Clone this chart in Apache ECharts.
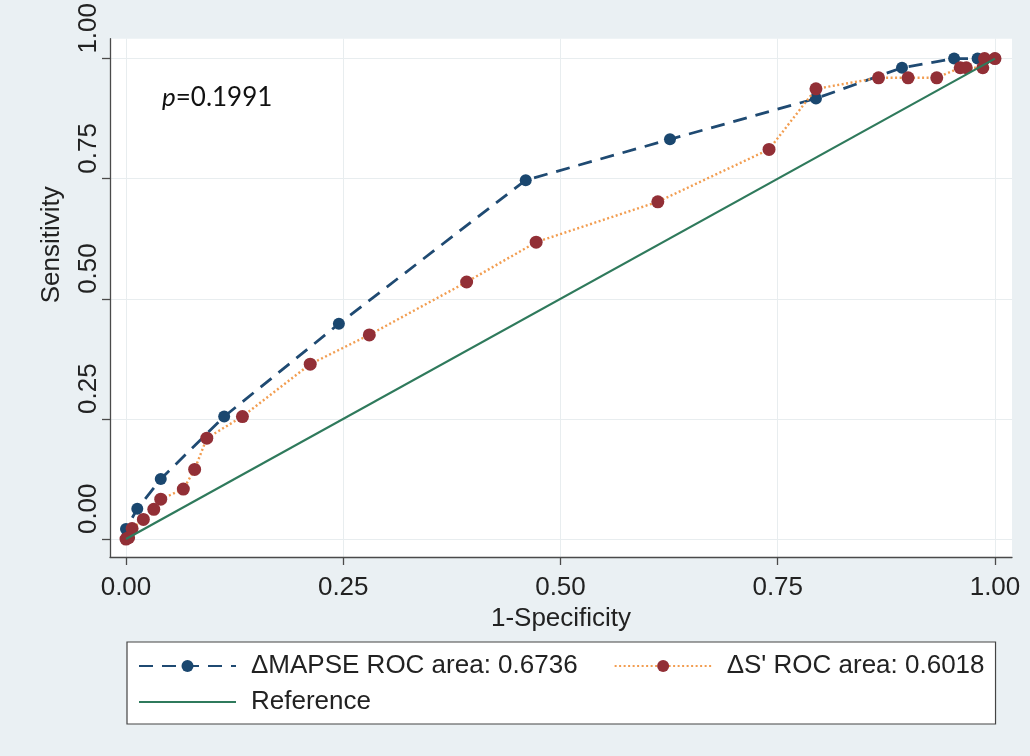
<!DOCTYPE html>
<html>
<head>
<meta charset="utf-8">
<title>ROC curves</title>
<script src="https://cdn.jsdelivr.net/npm/echarts@6/dist/echarts.min.js"></script>
<style>
  html, body { margin: 0; padding: 0; background: #eaf0f3; }
  #chart { width: 1030px; height: 756px; }
</style>
</head>
<body>
<div id="chart"></div>
<script>
// Tick positions shared by both axes
const tickValues = [0, 0.25, 0.5, 0.75, 1];

// ΔMAPSE ROC curve (1-specificity, sensitivity)
const mapseFpr  = [0, 0, 0.013, 0.040, 0.113, 0.245, 0.460, 0.626, 0.794, 0.893, 0.953, 0.980, 1];
const mapseSens = [0, 0.021, 0.063, 0.125, 0.255, 0.448, 0.747, 0.832, 0.917, 0.981, 1, 1, 1];

// ΔS' ROC curve (1-specificity, sensitivity)
const sFpr  = [0, 0.003, 0.007, 0.020, 0.032, 0.040, 0.066, 0.079, 0.093, 0.134, 0.212, 0.280, 0.392, 0.472, 0.612, 0.740, 0.794, 0.866, 0.900, 0.933, 0.960, 0.967, 0.986, 0.988, 1];
const sSens = [0, 0.003, 0.022, 0.041, 0.062, 0.083, 0.104, 0.145, 0.210, 0.255, 0.364, 0.425, 0.535, 0.618, 0.702, 0.811, 0.937, 0.960, 0.960, 0.960, 0.981, 0.981, 0.981, 1, 1];

// Chance diagonal
const refX = [0, 1];
const refY = [0, 1];

const mapseName = 'ΔMAPSE ROC area: 0.6736';
const sName = "ΔS' ROC area: 0.6018";
const refName = 'Reference';
const pText = '{i|p}=0.1991';

const zip = (xs, ys) => xs.map((x, i) => [x, ys[i]]);
const fmt = v => v.toFixed(2);

const FONT = "'Liberation Sans', Arial, sans-serif";
const axisColor = '#4a4a4a';
const gridColor = '#e8edef';

const chart = echarts.init(document.getElementById('chart'), null, { renderer: 'canvas' });

chart.setOption({
  backgroundColor: '#eaf0f3',
  animation: false,
  textStyle: { fontFamily: FONT },
  title: {
    text: pText,
    left: 157,
    top: 80,
    textStyle: {
      fontFamily: "Lato, 'Liberation Sans', sans-serif",
      fontSize: 26,
      fontWeight: 'normal',
      color: '#111',
      rich: {
        i: { fontFamily: "Lato, 'Liberation Sans', sans-serif", fontSize: 26, fontStyle: 'italic', color: '#111' }
      }
    }
  },
  grid: {
    left: 110, right: 18, top: 37, bottom: 199,
    show: true, backgroundColor: '#ffffff', borderWidth: 0,
    containLabel: false
  },
  xAxis: {
    type: 'value',
    min: -0.0184, max: 1.0196,
    name: '1-Specificity',
    nameLocation: 'middle',
    nameGap: 39,
    nameTextStyle: { fontFamily: FONT, fontSize: 26, color: '#222' },
    axisLine: { show: true, onZero: false, lineStyle: { color: axisColor, width: 1.3 } },
    axisTick: { show: true, customValues: tickValues, length: 8, lineStyle: { color: axisColor, width: 1.3 } },
    axisLabel: { customValues: tickValues, formatter: fmt, fontFamily: FONT, fontSize: 26, color: '#222', margin: 18 },
    splitLine: { show: true, lineStyle: { color: gridColor, width: 1 } }
  },
  yAxis: {
    type: 'value',
    min: -0.0373, max: 1.0415,
    name: 'Sensitivity',
    nameLocation: 'middle',
    nameRotate: 90,
    nameGap: 45,
    nameTextStyle: { fontFamily: FONT, fontSize: 26, color: '#222', padding: [0, 0, 0, 106] },
    axisLine: { show: true, onZero: false, lineStyle: { color: axisColor, width: 1.3 } },
    axisTick: { show: true, customValues: tickValues, length: 8, lineStyle: { color: axisColor, width: 1.3 } },
    axisLabel: {
      customValues: tickValues, formatter: fmt, fontFamily: FONT, fontSize: 26, color: '#222',
      rotate: 90, align: 'left', verticalAlign: 'middle', margin: 21, padding: [0, 0, 0, 5]
    },
    splitLine: { show: true, lineStyle: { color: gridColor, width: 1 } }
  },
  legend: [
    {
      data: [mapseName, sName],
      left: 127, top: 642,
      orient: 'horizontal',
      padding: [11, 11, 45, 11],
      itemGap: 36,
      itemWidth: 97, itemHeight: 15,
      backgroundColor: '#ffffff',
      borderColor: '#444', borderWidth: 1.2, borderRadius: 0,
      textStyle: { fontFamily: FONT, fontSize: 26, color: '#222', padding: [0, 0, 0, 10] },
      selectedMode: false
    },
    {
      data: [{ name: refName, itemStyle: { opacity: 0 } }],
      left: 138, top: 689,
      padding: 0,
      itemWidth: 97, itemHeight: 15,
      textStyle: { fontFamily: FONT, fontSize: 26, color: '#222', padding: [0, 0, 0, 10] },
      selectedMode: false,
      z: 10
    }
  ],
  series: [
    {
      name: mapseName,
      type: 'line',
      data: zip(mapseFpr, mapseSens),
      symbol: 'circle', symbolSize: 12,
      itemStyle: { color: '#1a476f' },
      lineStyle: { color: '#1f4a72', width: 2.8, type: [14, 9] },
      z: 3
    },
    {
      name: sName,
      type: 'line',
      data: zip(sFpr, sSens),
      symbol: 'circle', symbolSize: 13,
      itemStyle: { color: '#922f36' },
      lineStyle: { color: '#f29d50', width: 2.4, type: [2, 2.5] },
      z: 4
    },
    {
      name: refName,
      type: 'line',
      data: zip(refX, refY),
      symbol: 'none',
      itemStyle: { color: '#2f7a5c' },
      lineStyle: { color: '#2f7a5c', width: 2.2, type: 'solid' },
      z: 5
    }
  ]
});
</script>
</body>
</html>
